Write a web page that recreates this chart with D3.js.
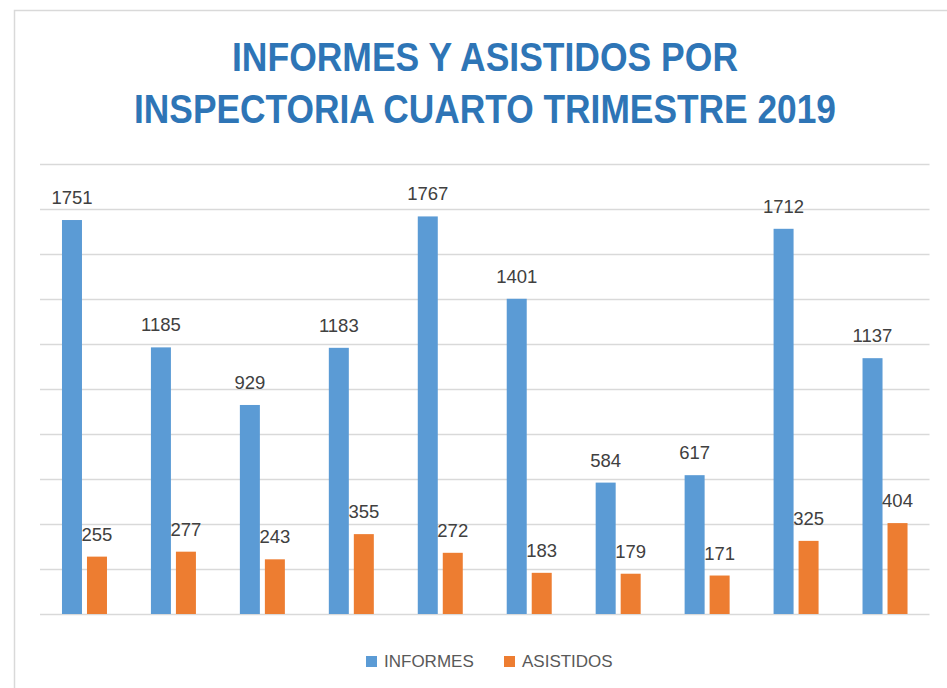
<!DOCTYPE html>
<html>
<head>
<meta charset="utf-8">
<script src="https://cdn.jsdelivr.net/npm/d3@7"></script>
<style>
  body { margin: 0; background: #fff; }
  svg { display: block; }
</style>
</head>
<body>
<svg id="chart"></svg>
<script>
// data
const inspectorias = ["1", "2", "3", "4", "5", "6", "7", "8", "9", "10"];
const series = ["INFORMES", "ASISTIDOS"];
const informes = [1751, 1185, 929, 1183, 1767, 1401, 584, 617, 1712, 1137];
const asistidos = [255, 277, 243, 355, 272, 183, 179, 171, 325, 404];
const colors = ["#5B9BD5", "#ED7D31"];
const titleLines = ["INFORMES Y ASISTIDOS POR", "INSPECTORIA CUARTO TRIMESTRE 2019"];

let width = 947, height = 688;
var margin = {top: 164, right: 17.5, bottom: 74, left: 40};

let svg = d3.select("#chart")
    .attr("width", width)
    .attr("height", height);

// chart frame
svg.append("rect")
    .attr("x", 14.5).attr("y", 10.5)
    .attr("width", width).attr("height", height)
    .attr("fill", "#fff")
    .attr("stroke", "#d9d9d9")
    .attr("stroke-width", 1.5);

// title
let titleWidths = [506, 702];
svg.selectAll(".title")
    .data(titleLines)
    .enter()
    .append("text")
    .attr("class", "title")
    .attr("x", 485)
    .attr("y", (d, i) => 71 + i * 52)
    .attr("text-anchor", "middle")
    .attr("textLength", (d, i) => titleWidths[i])
    .attr("lengthAdjust", "spacingAndGlyphs")
    .style("font", "bold 40px 'Liberation Sans', Arial, sans-serif")
    .style("fill", "#2E75B6")
    .text(d => d);

// scales
const yScale = d3.scaleLinear()
    .domain([0, 2000])
    .range([height - margin.bottom, margin.top]);

const x0 = d3.scaleBand()
    .domain(inspectorias)
    .range([margin.left, width - margin.right]);

const bw = x0.bandwidth();
const x1 = d3.scaleBand()
    .domain(series)
    .range([(bw - 45) / 2, (bw + 45) / 2])
    .paddingInner(0.2);

// gridlines
let grid = svg.append("g")
    .attr("transform", "translate(" + margin.left + ",0)")
    .call(d3.axisLeft(yScale)
        .tickValues(d3.range(0, 2001, 200))
        .tickSize(-(width - margin.left - margin.right))
        .tickFormat(""));
grid.select(".domain").remove();
grid.selectAll("line")
    .attr("stroke", "#d9d9d9")
    .attr("stroke-width", 1.3);

// build grouped rows
let rows = inspectorias.map((c, i) => ({
    cat: c,
    vals: [
        {key: series[0], value: informes[i], color: colors[0]},
        {key: series[1], value: asistidos[i], color: colors[1]}
    ]
}));

let groups = svg.selectAll(".grupo")
    .data(rows)
    .enter()
    .append("g")
    .attr("class", "grupo")
    .attr("transform", d => "translate(" + x0(d.cat) + ",0)");

groups.selectAll("rect")
    .data(d => d.vals)
    .enter()
    .append("rect")
    .attr("x", d => x1(d.key))
    .attr("y", d => yScale(d.value))
    .attr("width", x1.bandwidth())
    .attr("height", d => yScale(0) - yScale(d.value))
    .style("fill", d => d.color);

// value labels
groups.selectAll(".lbl")
    .data(d => d.vals)
    .enter()
    .append("text")
    .attr("class", "lbl")
    .attr("x", d => x1(d.key) + x1.bandwidth() / 2)
    .attr("y", d => yScale(d.value) - 16)
    .attr("text-anchor", "middle")
    .style("font", "18.5px 'Liberation Sans', Arial, sans-serif")
    .style("fill", "#404040")
    .text(d => d.value);

// legend
let legendX = [366, 504];
let legend = svg.selectAll(".legend")
    .data(series)
    .enter()
    .append("g")
    .attr("class", "legend")
    .attr("transform", (d, i) => "translate(" + legendX[i] + ",656)");

legend.append("rect")
    .attr("width", 11)
    .attr("height", 11)
    .style("fill", (d, i) => colors[i]);

legend.append("text")
    .attr("x", 18)
    .attr("y", 11)
    .style("font", "17px 'Liberation Sans', Arial, sans-serif")
    .style("fill", "#595959")
    .text(d => d);
</script>
</body>
</html>
